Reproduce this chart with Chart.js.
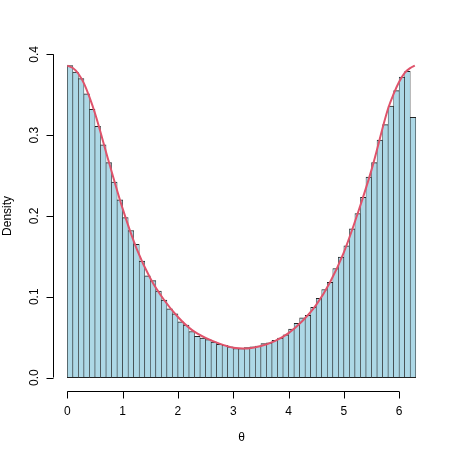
<!DOCTYPE html>
<html>
<head>
<meta charset="utf-8">
<script src="https://cdn.jsdelivr.net/npm/chart.js@4.4.1/dist/chart.umd.min.js"></script>
<style>
  html, body { margin: 0; padding: 0; background: #ffffff; }
  #wrap { width: 457px; height: 457px; position: relative; }
</style>
</head>
<body>
<div id="wrap"><canvas id="myChart" width="457" height="457"></canvas></div>
<script>
// histogram bins (mid points, width 0.1)
const binMids = [
  0.05, 0.15, 0.25, 0.35, 0.45, 0.55, 0.65, 0.75, 0.85, 0.95,
  1.05, 1.15, 1.25, 1.35, 1.45, 1.55, 1.65, 1.75, 1.85, 1.95,
  2.05, 2.15, 2.25, 2.35, 2.45, 2.55, 2.65, 2.75, 2.85, 2.95,
  3.05, 3.15, 3.25, 3.35, 3.45, 3.55, 3.65, 3.75, 3.85, 3.95,
  4.05, 4.15, 4.25, 4.35, 4.45, 4.55, 4.65, 4.75, 4.85, 4.95,
  5.05, 5.15, 5.25, 5.35, 5.45, 5.55, 5.65, 5.75, 5.85, 5.95,
  6.05, 6.15, 6.25
];
const density = [
  0.386, 0.378, 0.370, 0.351, 0.332, 0.311, 0.288, 0.266, 0.242, 0.220,
  0.198, 0.182, 0.165, 0.144, 0.126, 0.120, 0.107, 0.096, 0.085, 0.079,
  0.069, 0.065, 0.057, 0.051, 0.049, 0.047, 0.044, 0.041, 0.040, 0.038,
  0.036, 0.036, 0.037, 0.038, 0.039, 0.042, 0.043, 0.046, 0.049, 0.053,
  0.060, 0.067, 0.074, 0.077, 0.087, 0.098, 0.109, 0.118, 0.135, 0.149,
  0.163, 0.184, 0.203, 0.223, 0.248, 0.266, 0.294, 0.313, 0.336, 0.355,
  0.372, 0.379, 0.322
];

// fitted density curve
const curveX = [0, 0.1, 0.2, 0.3, 0.4, 0.5, 0.75, 1.0, 1.25, 1.5, 1.75, 2.0, 2.25, 2.5, 2.75, 3.0,
  3.25, 3.5, 3.75, 4.0, 4.25, 4.5, 4.75, 5.0, 5.25, 5.5, 5.8, 5.9, 6.0, 6.1, 6.2, 6.283];
const curveY = [0.386, 0.383, 0.376, 0.364, 0.347, 0.327, 0.267, 0.209, 0.160, 0.123, 0.096, 0.075, 0.059, 0.049, 0.042, 0.037,
  0.036, 0.039, 0.045, 0.055, 0.070, 0.090, 0.118, 0.155, 0.203, 0.257, 0.333, 0.351, 0.366, 0.377, 0.383, 0.386];

const xTicks = [0, 1, 2, 3, 4, 5, 6];
const yTicks = [0, 0.1, 0.2, 0.3, 0.4];
const xTitle = "θ";
const yTitle = "Density";

const FONT = '12px "Liberation Sans", Arial, Helvetica, sans-serif';

const rAxes = {
  id: "rAxes",
  afterDraw(chart) {
    const ctx = chart.ctx;
    const xs = chart.scales.x;
    const ys = chart.scales.y;
    const area = chart.chartArea;
    ctx.save();
    ctx.strokeStyle = "#000000";
    ctx.fillStyle = "#000000";
    ctx.lineWidth = 1;
    ctx.font = FONT;

    // x axis
    const yb = Math.round(area.bottom) + 0.5;
    ctx.beginPath();
    ctx.moveTo(xs.getPixelForValue(xTicks[0]), yb);
    ctx.lineTo(xs.getPixelForValue(xTicks[xTicks.length - 1]), yb);
    xTicks.forEach(t => {
      const px = Math.round(xs.getPixelForValue(t)) + 0.5;
      ctx.moveTo(px, yb);
      ctx.lineTo(px, yb + 7);
    });
    ctx.stroke();
    ctx.textAlign = "center";
    ctx.textBaseline = "middle";
    xTicks.forEach(t => {
      ctx.fillText(String(t), xs.getPixelForValue(t), yb + 20);
    });
    ctx.fillText(xTitle, (area.left + area.right) / 2, yb + 46);

    // y axis
    const xl = Math.round(area.left) + 0.5;
    ctx.beginPath();
    ctx.moveTo(xl, ys.getPixelForValue(yTicks[0]));
    ctx.lineTo(xl, ys.getPixelForValue(yTicks[yTicks.length - 1]));
    yTicks.forEach(t => {
      const py = Math.round(ys.getPixelForValue(t)) + 0.5;
      ctx.moveTo(xl, py);
      ctx.lineTo(xl - 7, py);
    });
    ctx.stroke();
    yTicks.forEach(t => {
      ctx.save();
      ctx.translate(xl - 19, ys.getPixelForValue(t));
      ctx.rotate(-Math.PI / 2);
      ctx.fillText(t.toFixed(1), 0, 0);
      ctx.restore();
    });
    ctx.save();
    ctx.translate(8, (area.top + area.bottom) / 2);
    ctx.rotate(-Math.PI / 2);
    ctx.fillText(yTitle, 0, 0);
    ctx.restore();

    ctx.restore();
  },
};

const ctx = document.getElementById("myChart");
new Chart(ctx, {
  data: {
    datasets: [
      {
        type: "line",
        order: 0,
        data: curveX.map((x, i) => ({ x: x, y: curveY[i] })),
        borderColor: "#DF536B",
        borderWidth: 2,
        pointRadius: 0,
        fill: false,
        cubicInterpolationMode: "monotone",
      },
      {
        type: "bar",
        order: 1,
        data: binMids.map((x, i) => ({ x: x, y: density[i] })),
        backgroundColor: "#ADD8E6",
        borderColor: "#222222",
        borderWidth: { top: 1, bottom: 1, left: 0.6, right: 0.6 },
        borderSkipped: false,
        barPercentage: 1,
        categoryPercentage: 1,
      },
    ],
  },
  options: {
    responsive: false,
    animation: false,
    events: [],
    layout: { padding: { left: 53.4, right: 27.3, top: 41.4, bottom: 66.5 } },
    plugins: { legend: { display: false }, tooltip: { enabled: false } },
    scales: {
      x: { type: "linear", min: -0.252, max: 6.552, display: false, offset: false },
      y: { type: "linear", min: -0.016, max: 0.416, display: false },
    },
  },
  plugins: [rAxes],
});
</script>
</body>
</html>
